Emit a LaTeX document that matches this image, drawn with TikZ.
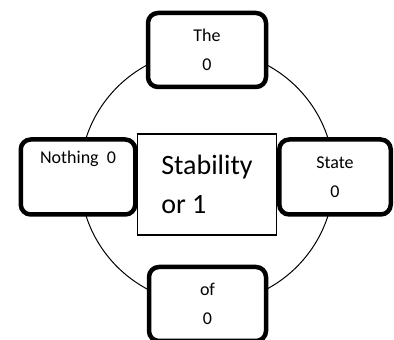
\documentclass[tikz,border=0pt]{standalone}
\usepackage{fontspec}
\setmainfont{Carlito}
\usepackage{tikz}

\begin{document}
\begin{tikzpicture}[
  x=1pt, y=1pt,
  wordbox/.style={rectangle, draw, line width=4.5pt, rounded corners=10pt, fill=white,
    minimum height=75pt, align=center, inner sep=0pt,
    font=\fontsize{18}{29.5}\selectfont},
  centerbox/.style={rectangle, draw, line width=1.2pt, fill=white,
    minimum width=139pt, minimum height=101pt, align=left, inner sep=0pt,
    font=\fontsize{28}{39}\selectfont}
]
\useasboundingbox (0,0) rectangle (394,340);
\coordinate (hub) at (207,163);
\draw[line width=1pt] (hub) circle (127);
\node[wordbox, minimum width=118pt, minimum height=74pt] (the) at (207,290) {The\\0};
\node[wordbox, minimum width=114.5pt, text height=13pt, text depth=39pt] (nothing) at (78,163) {Nothing~~0};
\node[wordbox, minimum width=111.5pt] (state) at (335,163) {State\\0};
\node[wordbox, minimum width=117pt, minimum height=74pt] (of) at (207.5,36) {of\\0};
\node[centerbox] (stability) at (207,155.5) {Stability\\or 1};
\end{tikzpicture}
\end{document}
